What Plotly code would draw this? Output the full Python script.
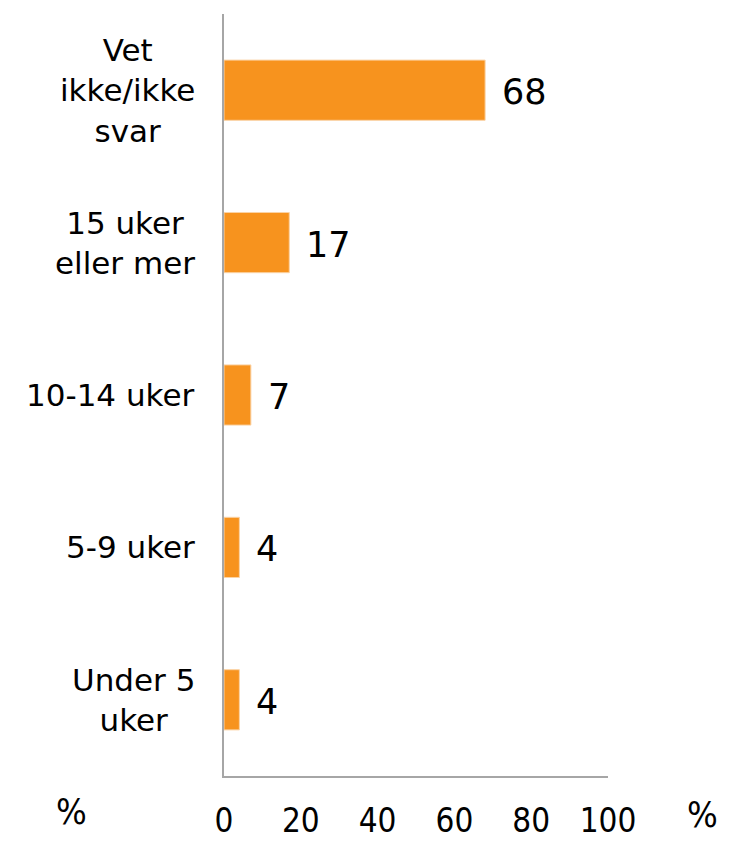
import plotly.graph_objects as go

categories = ["Vet<br>ikke/ikke<br>svar", "15 uker<br>eller mer", "10-14 uker", "5-9 uker", "Under 5<br>uker"]
values = [68, 17, 7, 4, 4]
tick_vals = [0, 20, 40, 60, 80, 100]
tick_text = ["0", "20", "40", "60", "80", "100"]

BAR = "#F7931E"
AXIS = "#A6A6A6"
FONT = "DejaVu Sans, Verdana, sans-serif"
COND = "DejaVu Sans Condensed, DejaVu Sans, sans-serif"

fig = go.Figure()
fig.add_trace(go.Bar(
    y=categories, x=values, orientation="h",
    marker=dict(color=BAR, line=dict(color="#FBD3A5", width=1)),
    width=0.395, hoverinfo="skip",
))

annotations = []
for c, v in zip(categories, values):
    annotations.append(dict(x=v, y=c, xref="x", yref="y", text=str(v),
                            showarrow=False, xanchor="left", yanchor="middle",
                            xshift=15, yshift=-2, font=dict(family=FONT, size=35, color="#000")))
    annotations.append(dict(x=0, y=c, xref="paper", yref="y", text=c,
                            showarrow=False, xanchor="right", yanchor="middle",
                            align="center", xshift=-27,
                            font=dict(family=FONT, size=31, color="#000")))
annotations.append(dict(x=-0.396, y=-0.047, xref="paper", yref="paper", text="%",
                        showarrow=False, xanchor="center", yanchor="middle",
                        font=dict(family=COND, size=36, color="#000")))
annotations.append(dict(x=1.247, y=-0.05, xref="paper", yref="paper", text="%",
                        showarrow=False, xanchor="center", yanchor="middle",
                        font=dict(family=COND, size=36, color="#000")))

fig.update_layout(
    width=729, height=841,
    margin=dict(l=224, r=121, t=14, b=65, autoexpand=False),
    paper_bgcolor="white", plot_bgcolor="white",
    showlegend=False,
    annotations=annotations,
    xaxis=dict(range=[0, 100], tickvals=tick_vals, ticktext=tick_text,
               showgrid=False, zeroline=False, showline=True, linecolor=AXIS, linewidth=2,
               ticks="", ticklabelstandoff=14, automargin=False,
               tickfont=dict(family=COND, size=33, color="#000"), fixedrange=True),
    yaxis=dict(categoryorder="array", categoryarray=categories[::-1],
               showgrid=False, zeroline=False, showline=True, linecolor=AXIS, linewidth=2,
               showticklabels=False, ticks="", fixedrange=True, automargin=False),
)

fig.write_html("out.html", config={"displayModeBar": False},
               post_script="document.body.style.margin='0';")
